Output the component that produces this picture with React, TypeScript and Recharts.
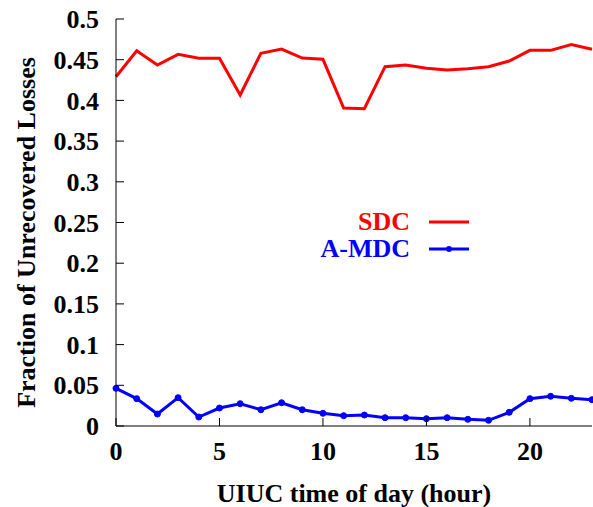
import { LineChart, Line, XAxis, YAxis, Legend } from "recharts"

const hours = [0, 1, 2, 3, 4, 5, 6, 7, 8, 9, 10, 11, 12, 13, 14, 15, 16, 17, 18, 19, 20, 21, 22, 23]

const sdc = [
    0.429, 0.461, 0.4435, 0.4566, 0.4517, 0.4517, 0.4066, 0.4578, 0.4631, 0.452, 0.4505, 0.3907,
    0.3898, 0.4414, 0.4435, 0.4394, 0.4373, 0.439, 0.4414, 0.4484, 0.4615, 0.4615, 0.4685, 0.4628,
]

const amdc = [
    0.0463, 0.0336, 0.0147, 0.0348, 0.011, 0.0221, 0.0274, 0.02, 0.0286, 0.02, 0.0156, 0.0127,
    0.0135, 0.0102, 0.0102, 0.009, 0.0102, 0.0082, 0.007, 0.0168, 0.0336, 0.0365, 0.034, 0.0323,
]

const seriesOrder = ["SDC", "A-MDC"]
const xTicks = [0, 5, 10, 15, 20]
const yTicks = [0, 0.05, 0.1, 0.15, 0.2, 0.25, 0.3, 0.35, 0.4, 0.45, 0.5]

const data = hours.map((h, i) => ({ hour: h, sdc: sdc[i], amdc: amdc[i] }))

const FONT = "'Liberation Serif', 'Times New Roman', serif"
const FS = 26
const TICK_LEN = 8
const LABEL_GAP = 17

const textStyle = { fontFamily: FONT, fontWeight: "bold" as const, fontSize: FS }

function LeftTick(props: any) {
    const { x, y, payload } = props
    const ax = x + LABEL_GAP
    return (
        <g>
            <line x1={ax} x2={ax + TICK_LEN} y1={y} y2={y} stroke="#000" strokeWidth={1} />
            <text x={x} y={y} dy="0.35em" textAnchor="end" fill="#000" style={textStyle}>
                {payload.value}
            </text>
        </g>
    )
}

function BottomTick(props: any) {
    const { x, y, payload } = props
    const ay = y - LABEL_GAP
    return (
        <g>
            <line x1={x} x2={x} y1={ay} y2={ay - TICK_LEN} stroke="#000" strokeWidth={1} />
            <text x={x} y={y} dy="0.64em" textAnchor="middle" fill="#000" style={textStyle}>
                {payload.value}
            </text>
        </g>
    )
}

function RightTick(props: any) {
    const { x, y } = props
    return <line x1={x} x2={x - TICK_LEN} y1={y} y2={y} stroke="#000" strokeWidth={1} />
}

function TopTick(props: any) {
    const { x, y } = props
    return <line x1={x} x2={x} y1={y} y2={y + TICK_LEN} stroke="#000" strokeWidth={1} />
}

function YTitle(props: any) {
    const { viewBox } = props
    const cx = viewBox.x + 26
    const cy = viewBox.y + viewBox.height / 2 + 10
    return (
        <text
            x={cx}
            y={cy}
            dy="0.35em"
            textAnchor="middle"
            transform={`rotate(-90, ${cx}, ${cy})`}
            fill="#000"
            style={textStyle}
        >
            Fraction of Unrecovered Losses
        </text>
    )
}

function LegendBox(props: any) {
    const items = [...(props.payload || [])].sort(
        (a: any, b: any) => seriesOrder.indexOf(a.value) - seriesOrder.indexOf(b.value)
    )
    return (
        <div style={{ ...textStyle, lineHeight: 1 }}>
            {items.map((p: any) => (
                <div key={p.value} style={{ display: "flex", alignItems: "center", justifyContent: "flex-end", height: 27 }}>
                    <span style={{ color: p.color }}>{p.value}</span>
                    <svg width={42} height={10} style={{ marginLeft: 18 }}>
                        <line x1={1} x2={41} y1={5} y2={5} stroke={p.color} strokeWidth={3} />
                        {p.value === "A-MDC" && <circle cx={21} cy={5} r={3} fill={p.color} />}
                    </svg>
                </div>
            ))}
        </div>
    )
}

export default function App() {
    return (
        <div style={{ position: "absolute", left: 0, top: 0, width: 593, height: 507, background: "#fff" }}>
            <LineChart
                width={593}
                height={507}
                data={data}
                margin={{ top: 19, right: 1, bottom: 0, left: 0 }}
            >
                <XAxis
                    dataKey="hour"
                    type="number"
                    domain={[0, 23]}
                    ticks={xTicks}
                    height={81}
                    stroke="#000"
                    tickSize={0}
                    tickMargin={LABEL_GAP}
                    tickLine={false}
                    tick={<BottomTick />}
                    label={{
                        value: "UIUC time of day (hour)",
                        position: "insideBottom",
                        offset: 5,
                        fill: "#000",
                        style: textStyle,
                    }}
                />
                <XAxis
                    xAxisId="top"
                    orientation="top"
                    type="number"
                    domain={[0, 23]}
                    ticks={xTicks}
                    height={0}
                    stroke="#000"
                    tickSize={0}
                    tickMargin={0}
                    tickLine={false}
                    tick={<TopTick />}
                />
                <YAxis
                    type="number"
                    domain={[0, 0.5]}
                    ticks={yTicks}
                    width={116}
                    stroke="#000"
                    tickSize={0}
                    tickMargin={LABEL_GAP}
                    tickLine={false}
                    tick={<LeftTick />}
                    label={<YTitle />}
                />
                <YAxis
                    yAxisId="right"
                    orientation="right"
                    type="number"
                    domain={[0, 0.5]}
                    ticks={yTicks}
                    width={0}
                    stroke="#000"
                    tickSize={0}
                    tickMargin={0}
                    tickLine={false}
                    tick={<RightTick />}
                />
                <Legend
                    layout="vertical"
                    align="center"
                    verticalAlign="middle"
                    content={<LegendBox />}
                    wrapperStyle={{ left: 250, top: 208, width: 220 }}
                />
                <Line
                    dataKey="sdc"
                    name="SDC"
                    stroke="#ff0000"
                    strokeWidth={3}
                    dot={false}
                    isAnimationActive={false}
                />
                <Line
                    dataKey="amdc"
                    name="A-MDC"
                    stroke="#0000ff"
                    strokeWidth={3}
                    dot={{ r: 3, fill: "#0000ff", stroke: "#0000ff", strokeWidth: 1 }}
                    isAnimationActive={false}
                />
            </LineChart>
        </div>
    )
}
